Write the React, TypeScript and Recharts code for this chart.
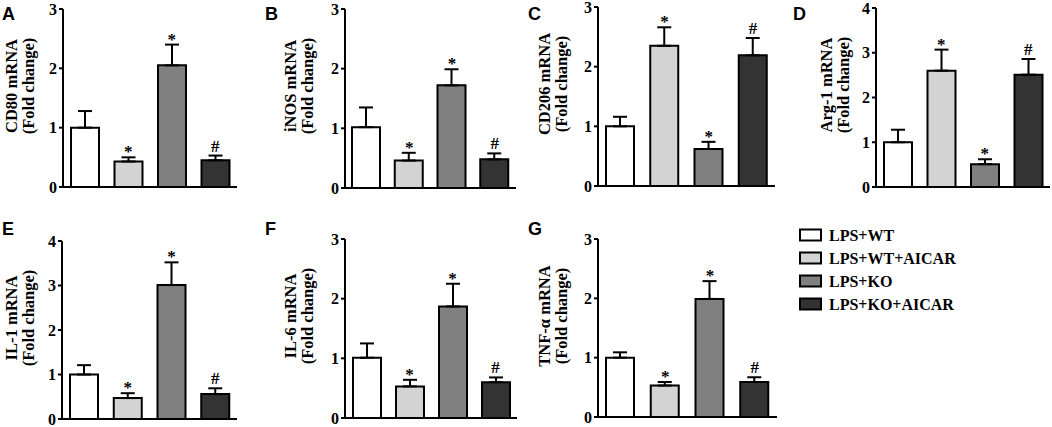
import { ComposedChart, Bar, Cell, ErrorBar, Line, XAxis, YAxis } from "recharts";

const groups = ["LPS+WT", "LPS+WT+AICAR", "LPS+KO", "LPS+KO+AICAR"];
const marks = ["", "*", "*", "#"];

const cd80Mean = [1.0, 0.43, 2.05, 0.45];
const cd80Err = [0.28, 0.07, 0.35, 0.08];
const inosMean = [1.02, 0.46, 1.72, 0.48];
const inosErr = [0.33, 0.13, 0.27, 0.1];
const cd206Mean = [1.0, 2.35, 0.62, 2.19];
const cd206Err = [0.16, 0.31, 0.12, 0.29];
const arg1Mean = [1.0, 2.6, 0.51, 2.51];
const arg1Err = [0.28, 0.47, 0.11, 0.35];
const il1Mean = [1.0, 0.47, 3.01, 0.56];
const il1Err = [0.21, 0.11, 0.51, 0.13];
const il6Mean = [1.01, 0.53, 1.87, 0.6];
const il6Err = [0.24, 0.11, 0.38, 0.08];
const tnfMean = [1.0, 0.53, 1.99, 0.59];
const tnfErr = [0.09, 0.06, 0.3, 0.08];

const ticks3 = [0, 1, 2, 3];
const ticks4 = [0, 1, 2, 3, 4];

const FILLS = ["#ffffff", "#d3d3d3", "#808080", "#333333"];
const SERIF = "'Liberation Serif', 'Times New Roman', serif";
const SANS = "'Liberation Sans', Arial, sans-serif";

const buildRows = (mean: number[], err: number[]) =>
  groups.map((g, i) => ({
    group: g,
    mean: mean[i],
    err: [0, err[i]],
    top: mean[i] + err[i],
    mark: marks[i],
  }));

interface PanelProps {
  letter: string;
  label: string;
  mean: number[];
  err: number[];
  ticks: number[];
  axisX: number;
  plotTop: number;
  plotBottom: number;
  right: number;
  letterX: number;
  letterY: number;
  labelX1: number;
  labelX2: number;
}

const Y_AXIS_W = 30;
const M_TOP = 8;
const M_BOTTOM = 10;
const X_AXIS_H = 4;

function Panel(p: PanelProps) {
  const data = buildRows(p.mean, p.err);
  const plotH = p.plotBottom - p.plotTop;
  const width = p.right - p.axisX + Y_AXIS_W + 2;
  const height = M_TOP + plotH + X_AXIS_H + M_BOTTOM;
  const labelY = p.plotTop + 77;

  const renderMark = (props: any) => {
    const { cx, cy, payload, index } = props;
    if (!payload.mark) return <g key={index} />;
    const dy = payload.mark === "*" ? 0 : -4;
    return (
      <text
        key={index}
        x={cx}
        y={cy + dy}
        textAnchor="middle"
        fontFamily={SERIF}
        fontWeight="bold"
        fontSize={17}
        fill="#000"
      >
        {payload.mark}
      </text>
    );
  };

  return (
    <>
      <div style={{ position: "absolute", left: p.axisX - Y_AXIS_W, top: p.plotTop - M_TOP }}>
        <ComposedChart
          width={width}
          height={height}
          data={data}
          margin={{ top: M_TOP, right: 2, bottom: M_BOTTOM, left: 0 }}
          barCategoryGap={0}
        >
          <XAxis
            dataKey="group"
            tick={false}
            tickLine={false}
            height={X_AXIS_H}
            axisLine={{ stroke: "#000", strokeWidth: 2 }}
          />
          <YAxis
            width={Y_AXIS_W}
            domain={[0, p.ticks[p.ticks.length - 1]]}
            ticks={p.ticks}
            interval={0}
            tickSize={4}
            tickMargin={2}
            axisLine={{ stroke: "#000", strokeWidth: 2 }}
            tickLine={{ stroke: "#000", strokeWidth: 2 }}
            tick={{ fontFamily: SERIF, fontWeight: "bold", fontSize: 16, fill: "#000" }}
          />
          <Bar dataKey="mean" barSize={28} stroke="#000" strokeWidth={2} isAnimationActive={false}>
            {data.map((d, i) => (
              <Cell key={d.group} fill={FILLS[i]} />
            ))}
            <ErrorBar dataKey="err" width={7} stroke="#000" strokeWidth={2} direction="y" />
          </Bar>
          <Line
            dataKey="top"
            stroke="none"
            dot={renderMark}
            activeDot={false}
            isAnimationActive={false}
          />
        </ComposedChart>
      </div>
      <svg
        style={{ position: "absolute", left: 0, top: 0, pointerEvents: "none" }}
        width={1052}
        height={427}
      >
        <text x={p.letterX} y={p.letterY} fontFamily={SANS} fontWeight="bold" fontSize={18} fill="#000">
          {p.letter}
        </text>
        <text
          transform={`translate(${p.labelX1},${labelY}) rotate(-90)`}
          textAnchor="middle"
          fontFamily={SERIF}
          fontWeight="bold"
          fontSize={16.5}
          fill="#000"
        >
          {p.label}
        </text>
        <text
          transform={`translate(${p.labelX2},${labelY}) rotate(-90)`}
          textAnchor="middle"
          fontFamily={SERIF}
          fontWeight="bold"
          fontSize={16.5}
          fill="#000"
        >
          (Fold change)
        </text>
      </svg>
    </>
  );
}

const legendRowsY = [235, 258, 281, 304];

export default function App() {
  return (
    <div style={{ position: "absolute", left: 0, top: 0, width: 1052, height: 427, background: "#fff" }}>
      <Panel letter="A" label="CD80 mRNA" mean={cd80Mean} err={cd80Err} ticks={ticks3}
        axisX={63} plotTop={9} plotBottom={187} right={237} letterX={2} letterY={20} labelX1={17} labelX2={34} />
      <Panel letter="B" label="iNOS mRNA" mean={inosMean} err={inosErr} ticks={ticks3}
        axisX={345} plotTop={9} plotBottom={188} right={516} letterX={265} letterY={20} labelX1={296} labelX2={313} />
      <Panel letter="C" label="CD206 mRNA" mean={cd206Mean} err={cd206Err} ticks={ticks3}
        axisX={598} plotTop={7} plotBottom={186} right={775} letterX={528} letterY={20} labelX1={550} labelX2={567} />
      <Panel letter="D" label="Arg-1 mRNA" mean={arg1Mean} err={arg1Err} ticks={ticks4}
        axisX={876} plotTop={8} plotBottom={187} right={1050} letterX={793} letterY={20} labelX1={832} labelX2={849} />
      <Panel letter="E" label="IL-1 mRNA" mean={il1Mean} err={il1Err} ticks={ticks4}
        axisX={62} plotTop={241} plotBottom={419} right={237} letterX={2} letterY={235} labelX1={17} labelX2={34} />
      <Panel letter="F" label="IL-6 mRNA" mean={il6Mean} err={il6Err} ticks={ticks3}
        axisX={345} plotTop={239} plotBottom={418} right={517} letterX={265} letterY={235} labelX1={296} labelX2={313} />
      <Panel letter="G" label="TNF-α mRNA" mean={tnfMean} err={tnfErr} ticks={ticks3}
        axisX={598} plotTop={239} plotBottom={417} right={777} letterX={528} letterY={235} labelX1={550} labelX2={567} />
      <svg style={{ position: "absolute", left: 0, top: 0 }} width={1052} height={427}>
        {groups.map((g, i) => (
          <g key={g}>
            <rect x={800} y={legendRowsY[i] - 5.5} width={21} height={11} fill={FILLS[i]} stroke="#000" strokeWidth={2} />
            <text x={829} y={legendRowsY[i] + 5.5} fontFamily={SERIF} fontWeight="bold" fontSize={16} fill="#000">
              {g}
            </text>
          </g>
        ))}
      </svg>
    </div>
  );
}
